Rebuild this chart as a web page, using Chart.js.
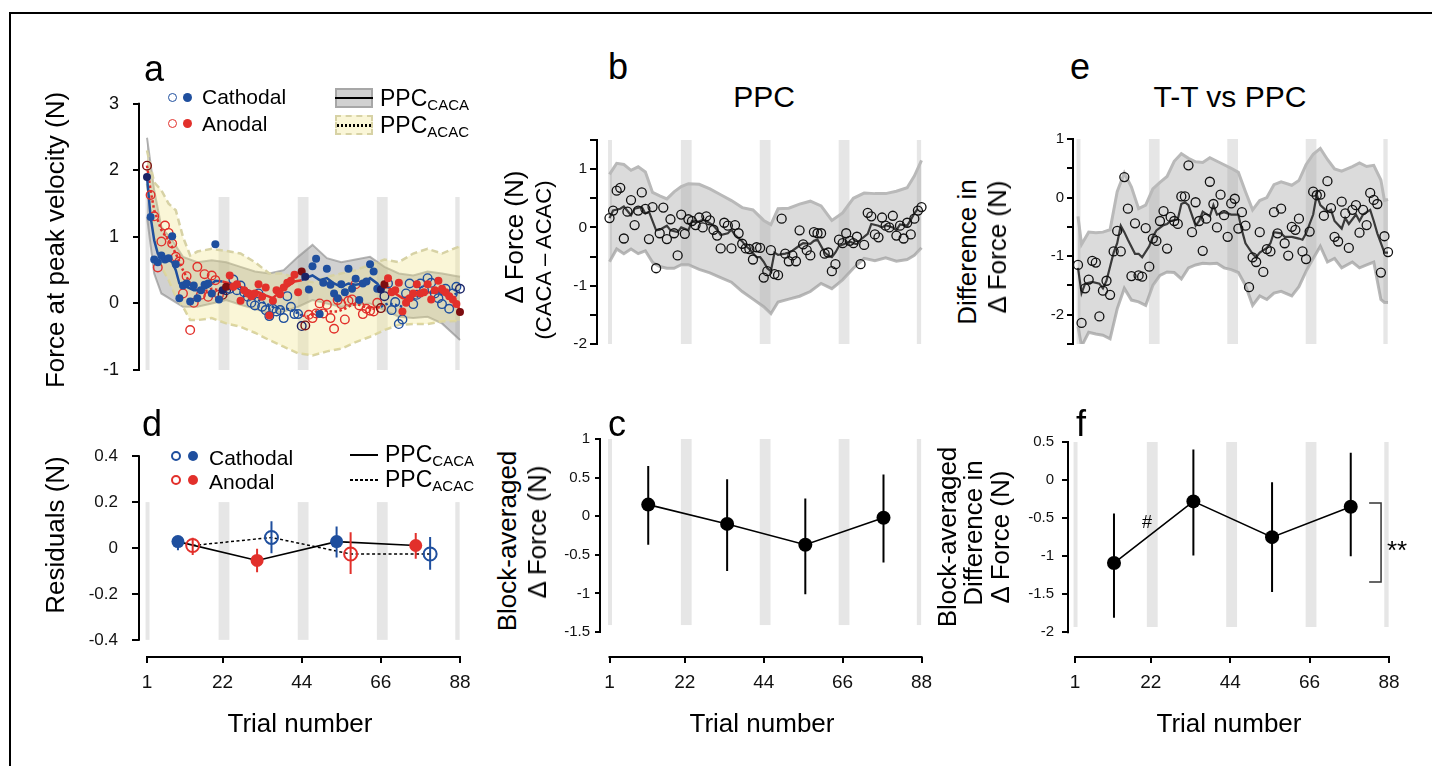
<!DOCTYPE html>
<html>
<head>
<meta charset="utf-8">
<script src="https://cdn.jsdelivr.net/npm/chart.js@4.4.1/dist/chart.umd.min.js"></script>
<style>
  body { margin:0; background:#fff; width:1432px; height:766px; overflow:hidden; position:relative;
         font-family:"Liberation Sans", Arial, sans-serif; color:#000; }
  canvas { position:absolute; }
  .t { position:absolute; white-space:nowrap; line-height:1; }
  .c { position:absolute; white-space:nowrap; line-height:1; transform:translateX(-50%); }
  .r { position:absolute; white-space:nowrap; line-height:1; transform:translate(-50%,-50%) rotate(-90deg); font-size:26px; }
  .dot { position:absolute; box-sizing:border-box; border-radius:50%; }
  sub { font-size:15px; vertical-align:-4px; line-height:0; }
</style>
</head>
<body>
<div style="position:absolute;left:9px;top:12px;width:1440px;height:800px;border-left:2px solid #000;border-top:2px solid #000;"></div>

<canvas id="pa"></canvas>
<canvas id="pb"></canvas>
<canvas id="pe"></canvas>
<canvas id="pd"></canvas>
<canvas id="pc"></canvas>
<canvas id="pf"></canvas>

<!-- panel letters and titles -->
<div class="t" style="left:144px;top:51px;font-size:36px;">a</div>
<div class="t" style="left:608px;top:49px;font-size:36px;">b</div>
<div class="t" style="left:1070px;top:49px;font-size:36px;">e</div>
<div class="t" style="left:142px;top:406px;font-size:36px;">d</div>
<div class="t" style="left:608px;top:406px;font-size:36px;">c</div>
<div class="t" style="left:1076px;top:406px;font-size:36px;">f</div>
<div class="c" style="left:764px;top:82px;font-size:30px;">PPC</div>
<div class="c" style="left:1230px;top:82px;font-size:30px;">T-T vs PPC</div>

<!-- axis titles -->
<div class="r" style="left:55px;top:240px;">Force at peak velocity (N)</div>
<div class="r" style="left:55px;top:535px;">Residuals (N)</div>
<div class="r" style="left:514px;top:237px;">Δ Force (N)</div>
<div class="r" style="left:544px;top:260px;font-size:22px;">(CACA – ACAC)</div>
<div class="r" style="left:967px;top:252px;">Difference in</div>
<div class="r" style="left:997px;top:247px;">Δ Force (N)</div>
<div class="r" style="left:507px;top:541px;">Block-averaged</div>
<div class="r" style="left:537px;top:532px;">Δ Force (N)</div>
<div class="r" style="left:947px;top:537px;">Block-averaged</div>
<div class="r" style="left:973px;top:533px;">Difference in</div>
<div class="r" style="left:1000px;top:537px;">Δ Force (N)</div>
<div class="c" style="left:300px;top:710px;font-size:26px;">Trial number</div>
<div class="c" style="left:762px;top:710px;font-size:26px;">Trial number</div>
<div class="c" style="left:1229px;top:710px;font-size:26px;">Trial number</div>

<!-- legend a -->
<div class="dot" style="left:167.5px;top:92.5px;width:9px;height:9px;border:1.5px solid #1f4f9e;"></div>
<div class="dot" style="left:182.5px;top:92.5px;width:9px;height:9px;background:#1f4f9e;"></div>
<div class="dot" style="left:167.5px;top:119px;width:9px;height:9px;border:1.5px solid #e2302b;"></div>
<div class="dot" style="left:182.5px;top:119px;width:9px;height:9px;background:#e2302b;"></div>
<div class="t" style="left:202px;top:86px;font-size:21px;">Cathodal</div>
<div class="t" style="left:202px;top:113px;font-size:21px;">Anodal</div>
<div style="position:absolute;left:335px;top:88px;width:38px;height:20px;box-sizing:border-box;background:rgba(140,140,140,0.4);border:2px solid rgba(150,150,150,0.7);"></div>
<div style="position:absolute;left:335px;top:97px;width:38px;height:2px;background:#000;"></div>
<div style="position:absolute;left:335px;top:115px;width:38px;height:20px;box-sizing:border-box;background:rgba(240,230,140,0.35);border:2px dashed rgb(215,210,165);"></div>
<div style="position:absolute;left:337px;top:124px;width:34px;height:2.5px;background:repeating-linear-gradient(90deg,#000 0 2px,transparent 2px 4px);"></div>
<div class="t" style="left:380px;top:87px;font-size:23px;">PPC<sub>CACA</sub></div>
<div class="t" style="left:380px;top:114px;font-size:23px;">PPC<sub>ACAC</sub></div>

<!-- legend d -->
<div class="dot" style="left:171px;top:451px;width:10px;height:10px;border:2px solid #1f4f9e;"></div>
<div class="dot" style="left:188px;top:451px;width:10px;height:10px;background:#1f4f9e;"></div>
<div class="dot" style="left:171px;top:475px;width:10px;height:10px;border:2px solid #e2302b;"></div>
<div class="dot" style="left:188px;top:475px;width:10px;height:10px;background:#e2302b;"></div>
<div class="t" style="left:209px;top:447px;font-size:21px;">Cathodal</div>
<div class="t" style="left:209px;top:471px;font-size:21px;">Anodal</div>
<div style="position:absolute;left:350px;top:454px;width:28px;height:2px;background:#000;"></div>
<div style="position:absolute;left:350px;top:479px;width:28px;height:1.5px;background:repeating-linear-gradient(90deg,#000 0 3px,transparent 3px 5px);"></div>
<div class="t" style="left:385px;top:443px;font-size:23px;">PPC<sub>CACA</sub></div>
<div class="t" style="left:385px;top:468px;font-size:23px;">PPC<sub>ACAC</sub></div>

<!-- panel f annotations -->
<div class="t" style="left:1142px;top:513px;font-size:18px;">#</div>
<div class="t" style="left:1387px;top:537px;font-size:26px;">**</div>

<script>
// ---------- data ----------
const TRIAL_TICKS = [1, 22, 44, 66, 88];
const BAND_START = [0.6, 20.9, 42.9, 64.9, 86.7];
const BAND_END   = [1.7, 23.9, 45.9, 67.9, 87.9];
const DARK_TRIALS = [1, 22, 23, 44, 45, 66, 67, 88];

// panel a: filled = PPC CACA, open = PPC ACAC (trials 1..88)
const aFilled = [1.90,1.30,0.66,0.62,0.72,0.66,0.68,1.01,0.59,0.08,0.27,0.30,0.03,0.27,0.08,0.20,0.28,0.30,0.15,0.89,0.06,0.20,
  0.25,0.42,0.25,0.29,0.04,0.20,0.15,0.11,0.15,0.29,0.10,0.24,-0.18,0.04,0.20,0.14,0.24,0.31,0.34,0.43,0.17,0.48,
  0.40,0.21,0.56,0.67,-0.16,0.31,0.52,0.28,0.15,0.08,0.29,0.17,0.52,0.22,0.37,0.05,0.30,0.33,0.59,0.48,0.22,0.21,
  0.29,0.38,0.17,0.20,0.31,-0.12,0.01,0.08,0.15,0.29,0.15,0.17,0.29,0.06,0.20,0.34,0.22,0.17,0.11,0.06,-0.01,-0.13];
const aOpen = [2.07,1.63,1.31,0.54,0.93,1.17,1.06,0.90,0.70,0.63,0.15,0.41,-0.40,0.01,0.55,0.13,0.44,0.10,0.42,0.35,0.13,0.13,
  0.20,0.22,0.36,0.20,0.27,0.17,0.10,0.01,-0.03,0.15,-0.05,-0.10,-0.19,-0.08,-0.12,-0.10,-0.22,0.11,-0.05,-0.16,-0.16,-0.34,
  -0.33,-0.17,-0.22,-0.15,0.00,-0.15,-0.02,-0.22,-0.38,0.05,-0.01,-0.24,0.04,0.06,0.29,-0.03,-0.16,-0.08,-0.11,-0.12,0.01,-0.07,
  0.11,0.30,-0.10,0.02,-0.31,-0.24,0.15,0.30,-0.01,0.13,0.30,0.20,0.38,0.31,0.15,0.08,-0.01,0.22,-0.08,0.15,0.25,0.22];
const aSolidTrials = [1,2,3,4,6,8,9,10,12,14,16,18,20,22,24,26,28,30,32,34,36,38,40,42,44,45,47,49,51,53,55,57,59,61,63,65,66,68,70,72,74,76,78,80,82,84,86,88];
const aSolidVals = [1.90,1.30,0.95,0.75,0.70,0.62,0.50,0.30,0.25,0.20,0.20,0.25,0.34,0.33,0.30,0.28,0.22,0.18,0.17,0.12,0.08,0.18,0.25,0.33,0.35,0.38,0.42,0.35,0.38,0.30,0.25,0.30,0.28,0.30,0.38,0.30,0.22,0.25,0.15,0.08,0.10,0.15,0.18,0.16,0.18,0.14,0.08,-0.10];
const aDotTrials = [1,2,3,5,7,9,11,13,15,17,19,21,22,24,26,28,30,32,34,36,38,40,42,44,46,48,50,52,54,56,58,60,62,64,66,68,70,72,74,76,78,80,82,84,86,88];
const aDotVals = [2.07,1.70,1.40,1.10,0.95,0.75,0.50,0.30,0.20,0.18,0.22,0.20,0.20,0.22,0.25,0.20,0.10,0.05,0.00,-0.05,-0.08,-0.08,-0.12,-0.18,-0.20,-0.12,-0.10,-0.12,-0.12,-0.08,-0.02,-0.02,-0.06,-0.08,-0.05,0.00,-0.02,-0.05,0.05,0.10,0.15,0.18,0.15,0.12,0.12,0.18];
const aGreyTrials = [1,3,5,8,11,15,19,23,27,31,35,39,43,47,51,55,59,63,67,71,75,79,83,88];
const aGreyUpper = [2.49,1.70,1.15,0.95,0.70,0.62,0.65,0.62,0.55,0.48,0.45,0.50,0.70,0.88,0.68,0.62,0.66,0.70,0.55,0.45,0.42,0.48,0.45,0.40];
const aGreyLower = [1.30,0.45,0.15,0.05,-0.05,-0.05,0.00,0.05,-0.02,-0.08,-0.15,-0.12,-0.05,0.05,0.00,-0.05,-0.02,0.00,-0.10,-0.20,-0.22,-0.20,-0.30,-0.55];
const aYelTrials = [1,3,5,7,9,11,13,15,19,23,27,31,35,39,43,47,51,55,59,63,67,71,75,79,83,88];
const aYelUpper = [2.30,1.82,1.70,1.50,1.40,1.00,0.72,0.78,0.82,0.79,0.75,0.62,0.45,0.45,0.35,0.32,0.40,0.45,0.50,0.58,0.66,0.62,0.75,0.82,0.75,0.86];
const aYelLower = [1.80,1.00,0.55,0.35,0.10,-0.05,-0.25,-0.25,-0.22,-0.30,-0.35,-0.44,-0.55,-0.65,-0.75,-0.78,-0.72,-0.68,-0.58,-0.50,-0.40,-0.32,-0.31,-0.31,-0.27,-0.26];

// panel b: CACA - ACAC per trial
const bVals = [0.16,0.29,0.63,0.68,-0.19,0.27,0.47,0.04,0.29,0.60,0.32,-0.20,0.35,-0.70,-0.10,0.34,-0.20,0.14,-0.10,-0.48,0.22,-0.11,
  0.14,0.11,0.04,0.17,0.00,0.19,0.12,-0.04,-0.14,-0.36,0.08,0.03,-0.36,0.04,-0.10,-0.28,-0.36,-0.37,-0.55,-0.34,-0.35,-0.86,
  -0.75,-0.39,-0.80,-0.82,0.15,-0.45,-0.58,-0.48,-0.58,-0.05,-0.29,-0.39,-0.48,-0.08,-0.10,-0.10,-0.45,-0.43,-0.75,-0.63,-0.21,-0.27,
  -0.10,-0.23,-0.27,-0.16,-0.63,-0.30,0.25,0.19,-0.12,-0.17,0.17,0.03,0.00,0.20,-0.14,0.03,-0.19,0.08,-0.12,0.15,0.29,0.35];
const bLineTrials = [1,2,4,5,7,8,10,11,12,14,15,17,18,20,21,23,24,25,27,28,30,31,32,34,35,36,38,39,40,42,43,44,45,46,47,48,50,51,52,54,55,57,58,59,61,62,63,64,65,67,68,69,70,71,73,74,76,77,78,80,81,82,84,85,86,87];
const bLineVals = [0.16,0.29,0.32,0.36,0.21,0.32,0.35,0.24,0.27,-0.05,-0.04,0.03,-0.05,-0.08,0.00,-0.05,0.11,0.08,0.13,0.11,0.03,-0.04,-0.13,-0.10,-0.04,-0.13,-0.24,-0.32,-0.37,-0.51,-0.51,-0.59,-0.70,-0.75,-0.43,-0.47,-0.45,-0.43,-0.40,-0.31,-0.27,-0.28,-0.23,-0.21,-0.43,-0.48,-0.51,-0.43,-0.32,-0.27,-0.24,-0.27,-0.29,-0.21,-0.11,0.06,0.03,0.00,0.04,0.00,-0.05,0.05,0.03,0.13,0.24,0.32];
const bBandTrials = [1,3,5,7,9,11,13,15,17,19,21,23,26,29,32,35,38,41,44,46,48,51,54,57,60,63,66,69,72,75,78,81,84,86,88];
const bBandUpper = [0.91,1.10,1.08,0.98,1.04,0.95,0.60,0.54,0.49,0.61,0.70,0.75,0.74,0.66,0.56,0.46,0.34,0.30,0.12,0.05,0.32,0.33,0.40,0.45,0.37,0.12,0.25,0.50,0.59,0.58,0.58,0.62,0.68,0.88,1.15];
const bBandLower = [-0.59,-0.37,-0.45,-0.37,-0.45,-0.40,-0.60,-0.67,-0.70,-0.70,-0.64,-0.64,-0.72,-0.78,-0.86,-0.94,-1.10,-1.23,-1.36,-1.48,-1.28,-1.23,-1.18,-1.10,-0.96,-1.05,-0.90,-0.70,-0.53,-0.57,-0.52,-0.58,-0.55,-0.48,-0.35];

// panel e: T-T vs PPC difference per trial
const eVals = [-1.15,-2.14,-1.55,-1.40,-1.08,-1.11,-2.03,-1.59,-1.42,-1.66,-0.92,-0.57,-0.92,0.35,-0.19,-1.34,-0.44,-1.33,-1.35,-0.52,-1.18,-0.70,
  -0.74,-0.40,-0.23,-0.87,-0.33,-0.40,-0.45,0.02,0.02,0.55,-0.59,-0.08,-0.40,-0.91,-0.36,0.27,-0.11,-0.51,0.05,-0.30,-0.67,-0.10,
  -0.02,-0.53,-0.25,-0.48,-1.53,-1.02,-1.10,-0.59,-1.27,-0.88,-0.92,-0.25,-0.61,-0.19,-0.78,-0.99,-0.50,-0.55,-0.36,-0.92,-1.05,-0.58,
  0.10,0.04,0.05,-0.31,0.28,-0.18,-0.67,-0.75,-0.07,-0.27,-0.86,-0.21,-0.13,-0.60,-0.21,-0.47,0.08,-0.04,-0.11,-1.28,-0.66,-0.93];
const eLineTrials = [1,2,3,5,7,8,9,11,12,13,14,15,17,18,19,21,22,23,25,26,27,29,30,31,32,34,35,36,38,39,40,42,43,44,46,47,48,50,51,52,54,55,56,58,59,61,63,64,65,67,68,69,71,72,73,75,76,77,79,80,81,83,84,85,87,88];
const eLineVals = [-1.20,-1.63,-1.47,-1.44,-1.47,-1.55,-1.42,-0.94,-0.78,-0.48,-0.59,-0.72,-0.96,-0.96,-1.02,-0.83,-0.67,-0.56,-0.47,-0.45,-0.40,-0.37,-0.11,-0.08,-0.13,-0.48,-0.40,-0.24,-0.32,-0.13,-0.29,-0.25,-0.27,-0.29,-0.29,-0.56,-0.78,-0.96,-1.02,-0.94,-0.86,-0.78,-0.59,-0.61,-0.67,-0.67,-0.70,-0.72,-0.61,-0.29,0.05,-0.13,-0.24,-0.21,-0.40,-0.53,-0.35,-0.45,-0.29,-0.40,-0.29,-0.21,-0.40,-0.61,-0.94,-0.94];
const eBandTrials = [1,2,4,6,8,10,12,14,16,18,20,22,24,26,28,30,32,34,36,38,40,42,44,46,48,50,52,54,56,58,61,63,65,67,69,71,73,75,78,80,82,84,86,87,88];
const eBandUpper = [-0.32,-0.80,-0.59,-0.60,-0.59,-0.55,0.10,0.42,0.18,-0.19,-0.13,0.15,0.26,0.36,0.62,0.75,0.67,0.61,0.60,0.68,0.62,0.56,0.50,0.43,0.10,-0.21,-0.05,0.00,0.22,0.27,0.21,0.29,0.56,0.74,0.84,0.65,0.49,0.45,0.53,0.59,0.53,0.55,0.30,-0.05,-0.03];
const eBandLower = [-2.20,-2.54,-2.30,-2.33,-2.35,-2.41,-1.90,-1.55,-1.75,-1.78,-1.84,-1.50,-1.33,-1.27,-1.28,-1.39,-1.20,-1.15,-1.12,-1.13,-1.12,-1.20,-1.23,-1.28,-1.50,-1.84,-1.68,-1.74,-1.63,-1.60,-1.68,-1.52,-1.26,-1.04,-0.83,-1.10,-1.04,-1.20,-1.10,-1.20,-1.15,-1.10,-1.74,-1.79,-1.79];

// panel d: block residuals
const dFilledTrials = [9.6, 31.6, 53.7, 75.7];
const dFilled   = [0.028, -0.054, 0.028, 0.011];
const dFilledHi = [0.052, -0.003, 0.094, 0.066];
const dFilledLo = [-0.010, -0.106, -0.041, -0.047];
const dOpenTrials = [13.7, 35.6, 57.6, 79.7];
const dOpen   = [0.011, 0.046, -0.026, -0.026];
const dOpenHi = [0.045, 0.117, 0.069, 0.048];
const dOpenLo = [-0.030, -0.023, -0.113, -0.095];

// panels c and f: block averages
const blockCenters = [11.8, 33.8, 55.6, 77.4];
const cMean = [0.15, -0.10, -0.37, -0.02];
const cHi   = [0.65, 0.48, 0.23, 0.54];
const cLo   = [-0.37, -0.71, -1.01, -0.60];
const fMean = [-1.09, -0.28, -0.75, -0.35];
const fHi   = [-0.44, 0.40, -0.03, 0.36];
const fLo   = [-1.81, -0.99, -1.47, -1.00];
const fBracketTrials = [82.5, 85.8];
const fBracketVals = [-0.30, -1.34];

// ---------- helpers ----------
const BLUE = '#1f4f9e', RED = '#e2302b', NAVY = '#1b2466', MAROON = '#7d0d10';
const CACA = [BLUE, RED, BLUE, RED], ACAC = [RED, BLUE, RED, BLUE];
Chart.defaults.font.family = '"Liberation Sans", Arial, sans-serif';
Chart.defaults.color = '#111';

function blockOf(t) { return t <= 22 ? 0 : t <= 44 ? 1 : t <= 66 ? 2 : 3; }
function trialColor(t, order) {
  const c = order[blockOf(t)];
  if (DARK_TRIALS.indexOf(t) >= 0) return c === BLUE ? NAVY : MAROON;
  return c;
}
function seq(vals) { return vals.map((v, i) => ({x: i + 1, y: v})); }
function pts(xs, ys) { return xs.map((x, i) => ({x: x, y: ys[i]})); }
function errs(xs, hi, lo) {
  const out = [];
  xs.forEach((x, i) => { out.push({x: x, y: hi[i]}, {x: x, y: lo[i]}, {x: x, y: null}); });
  return out;
}

const deco = {
  id: 'deco',
  beforeDatasetsDraw(chart, args, o) {
    const {ctx, scales: {x, y}} = chart;
    ctx.save();
    ctx.fillStyle = '#e6e6e6';
    const y0 = y.getPixelForValue(o.bandY[0]), y1 = y.getPixelForValue(o.bandY[1]);
    BAND_START.forEach((s, i) => {
      const x0 = x.getPixelForValue(s), x1 = x.getPixelForValue(BAND_END[i]);
      ctx.fillRect(x0, y0, x1 - x0, y1 - y0);
    });
    ctx.restore();
  },
  afterDraw(chart, args, o) {
    const {ctx, scales: {x, y}, chartArea} = chart;
    ctx.save();
    ctx.strokeStyle = '#000';
    ctx.lineWidth = 2;
    ctx.beginPath();
    ctx.moveTo(chartArea.left, y.getPixelForValue(o.yLine[0]) - 1);
    ctx.lineTo(chartArea.left, y.getPixelForValue(o.yLine[1]) + 1);
    if (o.xLine) {
      ctx.moveTo(x.getPixelForValue(1) - 1, chartArea.bottom);
      ctx.lineTo(x.getPixelForValue(88) + 1, chartArea.bottom);
    }
    ctx.stroke();
    ctx.restore();
  }
};

function panel(id, p, datasets) {
  const padL = 70, padR = 14, padT = 14, padB = p.xAxis ? 62 : 14;
  const W = p.r - p.l + padL + padR, H = p.b - p.t + padT + padB;
  const cv = document.getElementById(id);
  cv.width = W; cv.height = H;
  cv.style.left = (p.l - padL) + 'px';
  cv.style.top = (p.t - padT) + 'px';
  cv.style.width = W + 'px';
  cv.style.height = H + 'px';
  return new Chart(cv, {
    type: 'line',
    data: { datasets: datasets },
    options: {
      responsive: false,
      animation: false,
      events: [],
      layout: { autoPadding: false, padding: { left: 0, right: padR, top: padT, bottom: p.xAxis ? 0 : padB } },
      plugins: {
        legend: { display: false },
        tooltip: { enabled: false },
        deco: { bandY: p.bandY, yLine: [p.yTicks[0], p.yTicks[p.yTicks.length - 1]], xLine: p.xAxis }
      },
      scales: {
        x: {
          type: 'linear', min: p.xMin, max: p.xMax, display: p.xAxis,
          afterFit: s => { s.height = padB; },
          afterBuildTicks: s => { s.ticks = TRIAL_TICKS.map(v => ({value: v})); },
          grid: { drawOnChartArea: false, drawTicks: true, tickLength: 6, color: '#000', lineWidth: 2 },
          border: { display: false },
          ticks: { font: { size: 19 }, padding: 8, autoSkip: false, maxRotation: 0 }
        },
        y: {
          type: 'linear', min: p.yMin, max: p.yMax,
          afterFit: s => { s.width = padL; },
          afterBuildTicks: s => { s.ticks = p.yTicks.map(v => ({value: v})); },
          grid: { drawOnChartArea: false, drawTicks: true, tickLength: p.tickLen, color: '#000', lineWidth: 2 },
          border: { display: false },
          ticks: { font: { size: p.yFont }, padding: p.yPad, autoSkip: false, callback: p.yLabel }
        }
      }
    },
    plugins: [deco]
  });
}

const intLabel = v => Number.isInteger(v) ? String(v) : '';
const numLabel = v => String(v);
const runColor = (order, trials) => ctx => order[blockOf(trials[ctx.p1DataIndex])];

// ---------- panel a ----------
panel('pa', { l: 139, r: 467, t: 93, b: 384, xMin: -1.224, xMax: 89.95, yMin: -1, yMax: 3,
  yTicks: [3, 2, 1, 0, -1], yLabel: numLabel, yFont: 18, yPad: 14, tickLen: 6, bandY: [1.6, -1], xAxis: false }, [
  { data: seq(aFilled), showLine: false, clip: false, pointRadius: 4, pointBorderWidth: 0,
    pointBackgroundColor: ctx => trialColor(ctx.dataIndex + 1, CACA) },
  { data: seq(aOpen), showLine: false, clip: false, pointRadius: 4.3, pointBorderWidth: 1.4,
    pointBackgroundColor: 'rgba(0,0,0,0)', pointBorderColor: ctx => trialColor(ctx.dataIndex + 1, ACAC) },
  { data: pts(aSolidTrials, aSolidVals), showLine: true, clip: false, pointRadius: 0, borderWidth: 2.5,
    borderColor: BLUE, segment: { borderColor: runColor(CACA, aSolidTrials) } },
  { data: pts(aDotTrials, aDotVals), showLine: true, clip: false, pointRadius: 0, borderWidth: 2.5, borderDash: [2.5, 2.5],
    borderColor: RED, segment: { borderColor: runColor(ACAC, aDotTrials) } },
  { data: pts(aYelTrials, aYelUpper), pointRadius: 0, borderWidth: 2.5, borderDash: [7, 4],
    borderColor: 'rgb(215,210,165)', fill: '+1', backgroundColor: 'rgba(240,230,140,0.35)' },
  { data: pts(aYelTrials, aYelLower), pointRadius: 0, borderWidth: 2.5, borderDash: [7, 4],
    borderColor: 'rgb(215,210,165)', fill: false },
  { data: pts(aGreyTrials, aGreyUpper), pointRadius: 0, borderWidth: 2,
    borderColor: 'rgba(150,150,150,0.7)', fill: '+1', backgroundColor: 'rgba(140,140,140,0.4)' },
  { data: pts(aGreyTrials, aGreyLower), pointRadius: 0, borderWidth: 2,
    borderColor: 'rgba(150,150,150,0.7)', fill: false }
]);

// ---------- panels b and e ----------
function runPanel(id, p, vals, lt, lv, bt, bu, bl) {
  return panel(id, p, [
    { data: seq(vals), showLine: false, clip: false, pointRadius: 4.5, pointBorderWidth: 1.3,
      pointBorderColor: '#111', pointBackgroundColor: 'rgba(0,0,0,0)' },
    { data: pts(lt, lv), showLine: true, clip: false, pointRadius: 0, borderWidth: 2.2, borderColor: '#3a3a3a' },
    { data: pts(bt, bu), pointRadius: 0, borderWidth: 3, borderColor: 'rgb(185,185,185)',
      fill: '+1', backgroundColor: 'rgba(160,160,160,0.38)' },
    { data: pts(bt, bl), pointRadius: 0, borderWidth: 3, borderColor: 'rgb(185,185,185)', fill: false }
  ]);
}
runPanel('pb', { l: 597, r: 928, t: 140, b: 358, xMin: -2.486, xMax: 89.81, yMin: -2, yMax: 1.5,
  yTicks: [1.5, 1, 0.5, 0, -0.5, -1, -1.5, -2], yLabel: intLabel, yFont: 15.5, yPad: 3, tickLen: 7, bandY: [1.5, -2], xAxis: false },
  bVals, bLineTrials, bLineVals, bBandTrials, bBandUpper, bBandLower);
runPanel('pe', { l: 1073, r: 1395, t: 139, b: 358, xMin: -0.403, xMax: 89.96, yMin: -2.5, yMax: 1,
  yTicks: [1, 0.5, 0, -0.5, -1, -1.5, -2, -2.5], yLabel: intLabel, yFont: 15, yPad: 3, tickLen: 6, bandY: [1, -2.5], xAxis: false },
  eVals, eLineTrials, eLineVals, eBandTrials, eBandUpper, eBandLower);

// ---------- panel d ----------
panel('pd', { l: 139, r: 467, t: 446, b: 657, xMin: -1.224, xMax: 89.95, yMin: -0.4746, yMax: 0.4,
  yTicks: [0.4, 0.2, 0, -0.2, -0.4], yLabel: v => v.toFixed(v === 0 ? 0 : 1), yFont: 17, yPad: 14, tickLen: 7,
  bandY: [0.2, -0.4], xAxis: true }, [
  { data: pts(dFilledTrials, dFilled), showLine: false, clip: false, pointRadius: 6.5, pointBorderWidth: 0,
    pointBackgroundColor: ctx => CACA[ctx.dataIndex] },
  { data: pts(dOpenTrials, dOpen), showLine: false, clip: false, pointRadius: 6.5, pointBorderWidth: 2,
    pointBackgroundColor: 'rgba(0,0,0,0)', pointBorderColor: ctx => ACAC[ctx.dataIndex] },
  { data: errs(dFilledTrials, dFilledHi, dFilledLo), showLine: true, spanGaps: false, clip: false, pointRadius: 0, borderWidth: 2,
    borderColor: BLUE, segment: { borderColor: ctx => CACA[Math.floor(ctx.p0DataIndex / 3)] } },
  { data: errs(dOpenTrials, dOpenHi, dOpenLo), showLine: true, spanGaps: false, clip: false, pointRadius: 0, borderWidth: 2,
    borderColor: RED, segment: { borderColor: ctx => ACAC[Math.floor(ctx.p0DataIndex / 3)] } },
  { data: pts(dFilledTrials, dFilled), showLine: true, clip: false, pointRadius: 0, borderWidth: 1.6, borderColor: '#000' },
  { data: pts(dOpenTrials, dOpen), showLine: true, clip: false, pointRadius: 0, borderWidth: 1.5, borderColor: '#000', borderDash: [3, 2.5] }
]);

// ---------- panels c and f ----------
function blockPanel(id, p, mean, hi, lo, extra) {
  return panel(id, p, [
    { data: pts(blockCenters, mean), showLine: false, clip: false, pointRadius: 7, pointBorderWidth: 0, pointBackgroundColor: '#000' },
    { data: errs(blockCenters, hi, lo), showLine: true, spanGaps: false, clip: false, pointRadius: 0, borderWidth: 2, borderColor: '#000' },
    { data: pts(blockCenters, mean), showLine: true, clip: false, pointRadius: 0, borderWidth: 1.6, borderColor: '#000' }
  ].concat(extra || []));
}
blockPanel('pc', { l: 600, r: 928, t: 439, b: 657, xMin: -1.649, xMax: 89.81, yMin: -1.824, yMax: 1,
  yTicks: [1, 0.5, 0, -0.5, -1, -1.5], yLabel: numLabel, yFont: 15, yPad: 5, tickLen: 5, bandY: [1, -1.41], xAxis: true },
  cMean, cHi, cLo);
blockPanel('pf', { l: 1068, r: 1396, t: 439, b: 657, xMin: -0.94, xMax: 89.94, yMin: -2.324, yMax: 0.5,
  yTicks: [0.5, 0, -0.5, -1, -1.5, -2], yLabel: numLabel, yFont: 15, yPad: 8, tickLen: 6, bandY: [0.5, -1.93], xAxis: true },
  fMean, fHi, fLo, [
  { data: [
      {x: fBracketTrials[0], y: fBracketVals[0]}, {x: fBracketTrials[1], y: fBracketVals[0]},
      {x: fBracketTrials[1], y: fBracketVals[1]}, {x: fBracketTrials[0], y: fBracketVals[1]}],
    showLine: true, clip: false, pointRadius: 0, borderWidth: 1.5, borderColor: '#333' }
]);
</script>
</body>
</html>
